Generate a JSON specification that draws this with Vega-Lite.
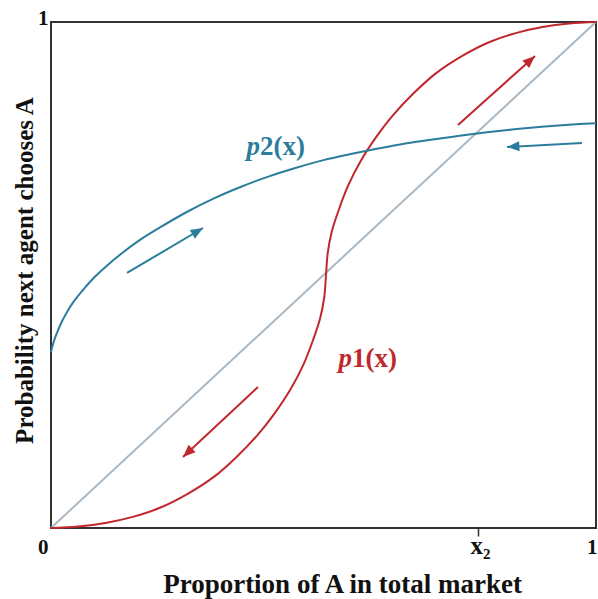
{
  "$schema": "https://vega.github.io/schema/vega-lite/v6.json",
  "width": 545,
  "height": 506,
  "autosize": {"type": "none"},
  "padding": {"left": 51, "top": 22, "right": 2, "bottom": 71},
  "background": "white",
  "config": {
    "view": {"stroke": "#333333", "strokeWidth": 2},
    "font": "Liberation Serif"
  },
  "datasets": {
    "curves": [
      {"series": "diag", "i": 0, "x": 0, "y": 0},
      {"series": "diag", "i": 1, "x": 1, "y": 1},
      {"series": "p1", "i": 0, "x": 0, "y": 0},
      {"series": "p1", "i": 1, "x": 0.05, "y": 0.003},
      {"series": "p1", "i": 2, "x": 0.1, "y": 0.01},
      {"series": "p1", "i": 3, "x": 0.15, "y": 0.022},
      {"series": "p1", "i": 4, "x": 0.2, "y": 0.04},
      {"series": "p1", "i": 5, "x": 0.25, "y": 0.067},
      {"series": "p1", "i": 6, "x": 0.3, "y": 0.102},
      {"series": "p1", "i": 7, "x": 0.34, "y": 0.14},
      {"series": "p1", "i": 8, "x": 0.38, "y": 0.185},
      {"series": "p1", "i": 9, "x": 0.41, "y": 0.226},
      {"series": "p1", "i": 10, "x": 0.44, "y": 0.275},
      {"series": "p1", "i": 11, "x": 0.464, "y": 0.325},
      {"series": "p1", "i": 12, "x": 0.481, "y": 0.372},
      {"series": "p1", "i": 13, "x": 0.494, "y": 0.415},
      {"series": "p1", "i": 14, "x": 0.5015, "y": 0.457},
      {"series": "p1", "i": 15, "x": 0.5046, "y": 0.5},
      {"series": "p1", "i": 16, "x": 0.5077, "y": 0.543},
      {"series": "p1", "i": 17, "x": 0.515, "y": 0.585},
      {"series": "p1", "i": 18, "x": 0.5278, "y": 0.628},
      {"series": "p1", "i": 19, "x": 0.5445, "y": 0.675},
      {"series": "p1", "i": 20, "x": 0.568, "y": 0.725},
      {"series": "p1", "i": 21, "x": 0.5975, "y": 0.774},
      {"series": "p1", "i": 22, "x": 0.6269, "y": 0.815},
      {"series": "p1", "i": 23, "x": 0.6662, "y": 0.86},
      {"series": "p1", "i": 24, "x": 0.7055, "y": 0.898},
      {"series": "p1", "i": 25, "x": 0.7546, "y": 0.933},
      {"series": "p1", "i": 26, "x": 0.8037, "y": 0.96},
      {"series": "p1", "i": 27, "x": 0.8527, "y": 0.978},
      {"series": "p1", "i": 28, "x": 0.9018, "y": 0.99},
      {"series": "p1", "i": 29, "x": 0.9509, "y": 0.997},
      {"series": "p1", "i": 30, "x": 1, "y": 1},
      {"series": "p2", "i": 0, "x": 0, "y": 0.348},
      {"series": "p2", "i": 1, "x": 0.005, "y": 0.368},
      {"series": "p2", "i": 2, "x": 0.01, "y": 0.383},
      {"series": "p2", "i": 3, "x": 0.02, "y": 0.408},
      {"series": "p2", "i": 4, "x": 0.03, "y": 0.428},
      {"series": "p2", "i": 5, "x": 0.04, "y": 0.445},
      {"series": "p2", "i": 6, "x": 0.06, "y": 0.472},
      {"series": "p2", "i": 7, "x": 0.08, "y": 0.496},
      {"series": "p2", "i": 8, "x": 0.1, "y": 0.516},
      {"series": "p2", "i": 9, "x": 0.13, "y": 0.543},
      {"series": "p2", "i": 10, "x": 0.16, "y": 0.567},
      {"series": "p2", "i": 11, "x": 0.2, "y": 0.594},
      {"series": "p2", "i": 12, "x": 0.25, "y": 0.625},
      {"series": "p2", "i": 13, "x": 0.3, "y": 0.652},
      {"series": "p2", "i": 14, "x": 0.35, "y": 0.675},
      {"series": "p2", "i": 15, "x": 0.4, "y": 0.695},
      {"series": "p2", "i": 16, "x": 0.45, "y": 0.712},
      {"series": "p2", "i": 17, "x": 0.5, "y": 0.727},
      {"series": "p2", "i": 18, "x": 0.55, "y": 0.739},
      {"series": "p2", "i": 19, "x": 0.6, "y": 0.75},
      {"series": "p2", "i": 20, "x": 0.65, "y": 0.76},
      {"series": "p2", "i": 21, "x": 0.7, "y": 0.768},
      {"series": "p2", "i": 22, "x": 0.75, "y": 0.775},
      {"series": "p2", "i": 23, "x": 0.8, "y": 0.782},
      {"series": "p2", "i": 24, "x": 0.85, "y": 0.788},
      {"series": "p2", "i": 25, "x": 0.9, "y": 0.793},
      {"series": "p2", "i": 26, "x": 0.95, "y": 0.797},
      {"series": "p2", "i": 27, "x": 1, "y": 0.8}
    ],
    "arrows": [
      {"series": "p2", "x0": 0.1394, "y0": 0.504, "x1": 0.2789, "y1": 0.5929, "heading": 59},
      {"series": "p2", "x0": 0.9743, "y0": 0.7609, "x1": 0.8367, "y1": 0.753, "heading": 267},
      {"series": "p1", "x0": 0.7468, "y0": 0.7964, "x1": 0.8881, "y1": 0.9328, "heading": 48},
      {"series": "p1", "x0": 0.3798, "y0": 0.2787, "x1": 0.2422, "y1": 0.1403, "heading": 227}
    ],
    "labels": [
      {"series": "p2", "x": 0.3835, "y": 0.737, "a": "p", "b": "2(x)"},
      {"series": "p1", "x": 0.5523, "y": 0.318, "a": "p", "b": "1(x)"}
    ]
  },
  "encoding": {
    "x": {
      "type": "quantitative",
      "scale": {"domain": [0, 1], "nice": false, "zero": false},
      "axis": {
        "title": "Proportion of A in total market",
        "values": [0, 0.7835, 1],
        "labelExpr": "datum.value == 0 ? '0' : (datum.value == 1 ? '1' : 'x₂')",
        "domain": false,
        "grid": false,
        "ticks": true,
        "tickSize": 8,
        "tickWidth": 1.5,
        "tickColor": {"condition": {"test": "datum.value > 0.5 && datum.value < 0.9", "value": "#333333"}, "value": "transparent"},
        "labelAlign": {"condition": [{"test": "datum.value == 0", "value": "right"}, {"test": "datum.value == 1", "value": "right"}], "value": "center"},
        "labelOffset": {"condition": [{"test": "datum.value == 1", "value": 1}, {"test": "datum.value == 0", "value": -3}], "value": 2},
        "labelFontSize": {"condition": {"test": "datum.value > 0.5 && datum.value < 0.9", "value": 25}, "value": 21},
        "labelBaseline": "alphabetic",
        "labelPadding": 17,
        "labelFont": "Liberation Serif",
        "labelFontWeight": "bold",
        "labelColor": "#111111",
        "labelFlush": false,
        "labelOverlap": false,
        "titleFont": "Liberation Serif",
        "titleFontWeight": "bold",
        "titleFontSize": 27,
        "titleColor": "#111111",
        "titleX": 291,
        "titleY": 64,
        "titleAlign": "center",
        "titleBaseline": "alphabetic"
      }
    },
    "y": {
      "type": "quantitative",
      "scale": {"domain": [0, 1], "nice": false, "zero": false},
      "axis": {
        "title": "Probability next agent chooses A",
        "values": [1],
        "domain": false,
        "grid": false,
        "ticks": false,
        "labelPadding": 3,
        "labelBaseline": "alphabetic",
        "labelOffset": 2,
        "labelFont": "Liberation Serif",
        "labelFontWeight": "bold",
        "labelFontSize": 21,
        "labelColor": "#111111",
        "labelFlush": false,
        "titleFont": "Liberation Serif",
        "titleFontWeight": "bold",
        "titleFontSize": 25,
        "titleColor": "#111111",
        "titleAngle": -90,
        "titleX": -19,
        "titleY": 248,
        "titleAlign": "center",
        "titleBaseline": "alphabetic"
      }
    }
  },
  "layer": [
    {
      "data": {"name": "curves"},
      "mark": {"type": "line", "interpolate": "catmull-rom"},
      "encoding": {
        "x": {"field": "x", "type": "quantitative"},
        "y": {"field": "y", "type": "quantitative"},
        "order": {"field": "i", "type": "quantitative"},
        "color": {"field": "series", "type": "nominal", "scale": {"domain": ["p1", "p2", "diag"], "range": ["#c0282d", "#2b7d9b", "#a9b8c5"]}, "legend": null},
        "strokeWidth": {"field": "series", "type": "nominal", "scale": {"domain": ["p1", "p2", "diag"], "range": [2, 2, 1.6]}, "legend": null}
      }
    },
    {
      "data": {"name": "arrows"},
      "mark": {"type": "rule", "strokeWidth": 2},
      "encoding": {
        "x": {"field": "x0", "type": "quantitative"},
        "y": {"field": "y0", "type": "quantitative"},
        "x2": {"field": "x1"},
        "y2": {"field": "y1"},
        "color": {"field": "series", "type": "nominal", "legend": null}
      }
    },
    {
      "data": {"name": "arrows"},
      "mark": {"type": "point", "shape": "M0,0L0.65,1.6L-0.65,1.6Z", "filled": true, "opacity": 1, "size": 240},
      "encoding": {
        "x": {"field": "x1", "type": "quantitative"},
        "y": {"field": "y1", "type": "quantitative"},
        "angle": {"field": "heading", "type": "quantitative", "scale": null},
        "color": {"field": "series", "type": "nominal", "legend": null}
      }
    },
    {
      "data": {"name": "labels"},
      "mark": {"type": "text", "align": "right", "baseline": "alphabetic", "font": "Liberation Serif", "fontWeight": "bold", "fontStyle": "italic", "fontSize": 27},
      "encoding": {
        "x": {"field": "x", "type": "quantitative"},
        "y": {"field": "y", "type": "quantitative"},
        "text": {"field": "a"},
        "color": {"field": "series", "type": "nominal", "legend": null}
      }
    },
    {
      "data": {"name": "labels"},
      "mark": {"type": "text", "align": "left", "baseline": "alphabetic", "font": "Liberation Serif", "fontWeight": "bold", "fontSize": 27},
      "encoding": {
        "x": {"field": "x", "type": "quantitative"},
        "y": {"field": "y", "type": "quantitative"},
        "text": {"field": "b"},
        "color": {"field": "series", "type": "nominal", "legend": null}
      }
    }
  ]
}
